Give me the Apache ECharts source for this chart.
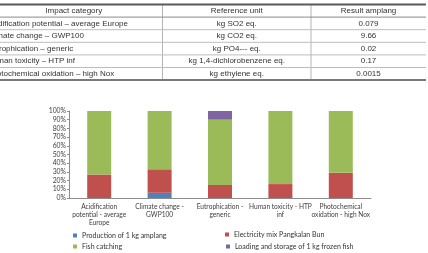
<!DOCTYPE html>
<html>
<head>
<meta charset="utf-8">
<script src="https://cdn.jsdelivr.net/npm/echarts@6/dist/echarts.min.js"></script>
<style>
  html, body { margin: 0; padding: 0; background: #fff; }
  #chart { width: 428px; height: 253px; }
</style>
</head>
<body>
<div id="chart"></div>
<script>
// table above the chart
const tableHeaders = ['Impact category', 'Reference unit', 'Result amplang'];
const impactCategories = [
  'Acidification potential \u2013 average Europe',
  'Climate change \u2013 GWP100',
  'Eutrophication \u2013 generic',
  'Human toxicity \u2013 HTP inf',
  'Photochemical oxidation \u2013 high Nox'
];
const referenceUnits = ['kg SO2 eq.', 'kg CO2 eq.', 'kg PO4--- eq.', 'kg 1,4-dichlorobenzene eq.', 'kg ethylene eq.'];
const results = ['0.079', '9.66', '0.02', '0.17', '0.0015'];

// stacked 100% bars
const categories = [
  'Acidification\npotential - average\nEurope',
  'Climate change -\nGWP100',
  'Eutrophication -\ngeneric',
  'Human toxicity - HTP\ninf',
  'Photochemical\noxidation - high Nox'
];
const seriesNames = [
  'Production of 1 kg amplang',
  'Electricity mix Pangkalan Bun',
  'Fish catching',
  'Loading and storage of 1 kg frozen fish'
];
const productionAmplang = [0, 6, 0, 0, 0];
const electricityMix = [27, 27, 15, 16, 29];
const fishCatching = [73, 67, 75, 84, 71];
const loadingStorage = [0, 0, 10, 0, 0];
const yTicks = [0, 10, 20, 30, 40, 50, 60, 70, 80, 90, 100];

const tableFont = 'Liberation Sans';
const chartFont = 'Lato';

function buildTable() {
  const rowTop = 4.5, rowH = 12.6;
  const colX = [-15, 162.5, 311, 426];
  const els = [];
  const hline = (y, color, w) => els.push({
    type: 'line', silent: true,
    shape: { x1: 0, y1: y, x2: colX[3], y2: y },
    style: { stroke: color, lineWidth: w }
  });
  const text = (x, y, s, align) => els.push({
    type: 'text', silent: true, x: x, y: y,
    style: {
      text: s, fill: '#333', font: '8px "' + tableFont + '"',
      align: align, textAlign: align, verticalAlign: 'middle', textVerticalAlign: 'middle'
    }
  });
  [1, 2].forEach(c => els.push({
    type: 'line', silent: true,
    shape: { x1: colX[c], y1: rowTop, x2: colX[c], y2: rowTop + rowH * 6 },
    style: { stroke: '#b5b5b5', lineWidth: 1 }
  }));
  hline(rowTop, '#5a5a5a', 2);
  hline(rowTop + rowH, '#8a8a8a', 1);
  for (let i = 2; i < 6; i++) hline(rowTop + rowH * i, '#bdbdbd', 1);
  hline(rowTop + rowH * 6, '#7a7a7a', 2);

  tableHeaders.forEach((h, c) => text((colX[c] + colX[c + 1]) / 2, rowTop + rowH / 2, h, 'center'));
  impactCategories.forEach((cat, i) => {
    const y = rowTop + rowH * (i + 1.5);
    text(-13, y, cat, 'left');
    text((colX[1] + colX[2]) / 2, y, referenceUnits[i], 'center');
    text((colX[2] + colX[3]) / 2, y, results[i], 'center');
  });
  return els;
}

const chart = echarts.init(document.getElementById('chart'), null, { renderer: 'canvas' });

const legendAt = (name, left, top) => ({
  left: left, top: top, padding: 0, itemWidth: 4, itemHeight: 4, icon: 'rect',
  data: [name],
  textStyle: { fontFamily: chartFont, fontSize: 7, color: '#333' }
});
const barSeries = (name, data, color) => ({
  name: name, type: 'bar', stack: 'total', data: data, barWidth: 24,
  itemStyle: { color: color }
});

chart.setOption({
  animation: false,
  backgroundColor: '#fff',
  textStyle: { fontFamily: chartFont },
  graphic: buildTable(),
  grid: { left: 69, top: 111, width: 302, height: 87, containLabel: false },
  legend: [
    legendAt(seriesNames[0], 73, 232),
    legendAt(seriesNames[2], 73, 243),
    legendAt(seriesNames[1], 225, 231),
    legendAt(seriesNames[3], 226, 243)
  ],
  xAxis: {
    type: 'category',
    data: categories,
    axisLine: { lineStyle: { color: '#8c8c8c' } },
    axisTick: { length: 3, lineStyle: { color: '#8c8c8c' } },
    axisLabel: {
      interval: 0, margin: 5, fontSize: 6.6, lineHeight: 8,
      color: '#404040', fontFamily: chartFont
    }
  },
  yAxis: {
    type: 'value', min: yTicks[0], max: yTicks[yTicks.length - 1], interval: 10,
    axisLine: { show: true, lineStyle: { color: '#8c8c8c' } },
    axisTick: { show: true, length: 2, lineStyle: { color: '#8c8c8c' } },
    splitLine: { show: false },
    axisLabel: {
      margin: 3, fontSize: 6.8, color: '#404040', fontFamily: chartFont,
      formatter: '{value}%'
    }
  },
  series: [
    barSeries(seriesNames[0], productionAmplang, '#4f81bd'),
    barSeries(seriesNames[1], electricityMix, '#c0504d'),
    barSeries(seriesNames[2], fishCatching, '#9bbb59'),
    barSeries(seriesNames[3], loadingStorage, '#8064a2')
  ]
});
</script>
</body>
</html>
